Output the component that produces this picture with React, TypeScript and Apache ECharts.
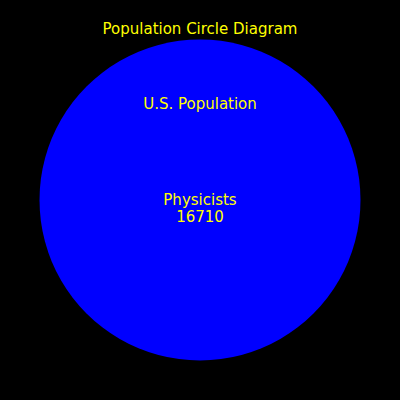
import React, { useEffect, useRef } from "react";
import * as echarts from "echarts";

const titleText = "Population Circle Diagram";
const outerLabel = "U.S. Population";
const innerLabel = "Physicists";
const physicists = 16710;

export default function App() {
  const ref = useRef<HTMLDivElement>(null);
  useEffect(() => {
    const chart = echarts.init(ref.current!, null, { renderer: "svg" });
    chart.setOption({
      animation: false,
      backgroundColor: "#000000",
      title: {
        text: titleText,
        left: "center",
        top: 16,
        textStyle: { color: "#ffff00", fontFamily: "DejaVu Sans", fontSize: 15, fontWeight: "normal" },
      },
      grid: { left: 0, right: 0, top: 0, bottom: 0 },
      xAxis: { type: "value", min: -1, max: 1, show: false },
      yAxis: { type: "value", min: -1, max: 1, show: false },
      series: [
        {
          type: "scatter",
          data: [[0, 0]],
          symbol: "circle",
          symbolSize: 321,
          itemStyle: { color: "#0000ff", opacity: 1 },
          label: {
            show: true,
            position: "inside",
            offset: [0, -96],
            formatter: outerLabel,
            color: "#ffff00",
            fontFamily: "DejaVu Sans",
            fontSize: 15,
            textBorderWidth: 0,
          },
          silent: true,
        },
        {
          type: "scatter",
          data: [[0, 0, physicists]],
          symbol: "circle",
          symbolSize: 1,
          itemStyle: { color: "#0000ff" },
          label: {
            show: true,
            position: "inside",
            offset: [0, 8],
            formatter: (p: any) => innerLabel + "\n" + p.value[2],
            color: "#ffff00",
            fontFamily: "DejaVu Sans",
            fontSize: 15,
            lineHeight: 17,
            align: "center",
            textBorderWidth: 0,
            opacity: 1,
          },
          silent: true,
        },
      ],
    });
    return () => chart.dispose();
  }, []);
  return <div ref={ref} style={{ position: "fixed", left: 0, top: 0, width: 400, height: 400 }} />;
}
